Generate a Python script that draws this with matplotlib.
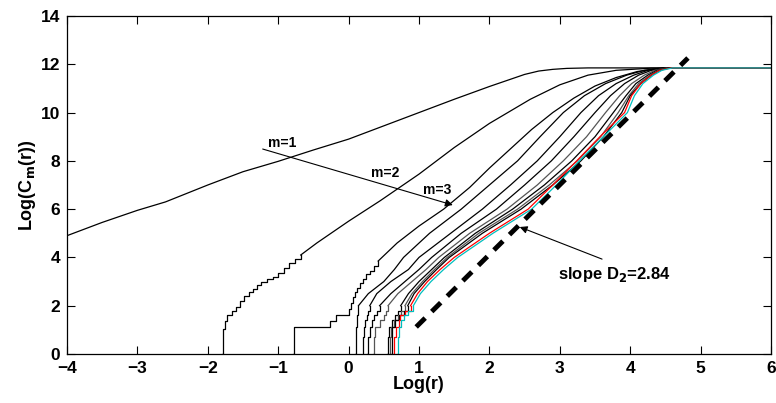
import numpy as np
import matplotlib
matplotlib.use("Agg")
import matplotlib.pyplot as plt

plt.rcParams['font.family'] = ['Liberation Sans', 'DejaVu Sans']
plt.rcParams['font.weight'] = 'bold'
plt.rcParams['axes.labelweight'] = 'bold'
plt.rcParams['mathtext.default'] = 'bf'

PLATEAU = 11.85
X_END = 6.0

# m=1 (smooth over the whole range)
m1_x = [-4, -3.5, -3, -2.6, -2, -1.5, -1, -0.5, 0, 0.5, 1, 1.5, 2, 2.3, 2.5, 2.7, 2.9, 3.1, 3.4, 3.8, 6]
m1_y = [4.9, 5.45, 5.95, 6.3, 7.0, 7.55, 7.98, 8.45, 8.9, 9.45, 10.0, 10.55, 11.08, 11.38, 11.58,
        11.72, 11.79, 11.83, 11.85, 11.85, 11.85]

# m=2 : staircase at the foot, then smooth
m2_stair_x = [-1.8, -1.79, -1.76, -1.72, -1.66, -1.6, -1.54, -1.48, -1.42, -1.36,
              -1.3, -1.24, -1.16, -1.08, -1.0, -0.92, -0.84, -0.76, -0.68]
m2_stair_y = [0.0, 1.05, 1.35, 1.6, 1.8, 1.95, 2.2, 2.4, 2.55, 2.7,
              2.85, 3.0, 3.1, 3.2, 3.35, 3.55, 3.75, 3.95, 4.1]
m2_x = [-0.68, -0.45, -0.2, 0, 0.45, 1.0, 1.5, 2.0, 2.58, 3.0, 3.4, 3.8, 4.3, 6]
m2_y = [4.1, 4.6, 5.1, 5.5, 6.35, 7.45, 8.55, 9.55, 10.55, 11.15, 11.55, 11.75, 11.84, 11.85]

# m=3
m3_stair_x = [-0.79, -0.78, -0.27, -0.18, 0.0, 0.03, 0.06, 0.09, 0.12, 0.16, 0.2, 0.25, 0.3, 0.36, 0.42]
m3_stair_y = [0.0, 1.1, 1.35, 1.6, 1.85, 2.1, 2.35, 2.55, 2.75, 2.95, 3.1, 3.3, 3.45, 3.65, 3.85]
m3_x = [0.42, 0.69, 1.0, 1.35, 1.72, 2.0, 2.3, 2.6, 2.9, 3.2, 3.5, 3.8, 4.1, 4.4, 4.6, 6]
m3_y = [3.85, 4.6, 5.3, 6.0, 6.9, 7.7, 8.5, 9.3, 10.0, 10.6, 11.1, 11.45, 11.7, 11.83, 11.85, 11.85]

# m=4 .. m=12 : x read at common Log(C) levels
y_levels = [0, 0.7, 1.1, 1.4, 1.6, 1.8, 2.0, 2.5, 3.0, 3.5, 4.0, 5.0, 6.0, 7.0,
            8.0, 9.0, 10.0, 10.7, 11.2, 11.55, 11.75, 11.85]
m4_x = [0.09, 0.1, 0.11, 0.12, 0.125, 0.13, 0.14, 0.28, 0.5, 0.65, 0.78, 1.15, 1.6, 2.0,
        2.4, 2.72, 3.05, 3.35, 3.65, 3.95, 4.2, 4.5]
m5_x = [0.2, 0.21, 0.22, 0.24, 0.26, 0.28, 0.3, 0.4, 0.6, 0.85, 1.0, 1.45, 1.9, 2.3,
        2.68, 3.0, 3.3, 3.55, 3.8, 4.05, 4.25, 4.5]
m6_x = [0.26, 0.27, 0.3, 0.33, 0.36, 0.4, 0.44, 0.6, 0.8, 1.0, 1.18, 1.6, 2.1, 2.5,
        2.88, 3.2, 3.5, 3.72, 3.92, 4.12, 4.3, 4.5]
m7_x = [0.35, 0.36, 0.38, 0.45, 0.5, 0.53, 0.56, 0.7, 0.9, 1.1, 1.28, 1.72, 2.25, 2.68,
        3.05, 3.38, 3.65, 3.85, 4.02, 4.2, 4.35, 4.52]
m8_x = [0.55, 0.56, 0.58, 0.62, 0.66, 0.7, 0.74, 0.85, 1.0, 1.18, 1.36, 1.8, 2.33, 2.78,
        3.17, 3.5, 3.76, 3.94, 4.08, 4.25, 4.38, 4.53]
m9_x = [0.58, 0.59, 0.6, 0.64, 0.7, 0.75, 0.8, 0.9, 1.05, 1.22, 1.4, 1.85, 2.4, 2.85,
        3.25, 3.58, 3.83, 3.98, 4.12, 4.28, 4.4, 4.54]
m10_x = [0.6, 0.61, 0.62, 0.66, 0.72, 0.78, 0.84, 0.93, 1.08, 1.25, 1.43, 1.9, 2.45, 2.9,
         3.3, 3.62, 3.88, 4.0, 4.15, 4.3, 4.42, 4.55]
m11_x = [0.63, 0.64, 0.68, 0.71, 0.73, 0.8, 0.88, 0.98, 1.12, 1.3, 1.5, 2.0, 2.55, 2.9,
         3.24, 3.57, 3.92, 4.02, 4.15, 4.3, 4.42, 4.58]
m12_x = [0.69, 0.7, 0.72, 0.75, 0.78, 0.84, 0.92, 1.02, 1.17, 1.35, 1.55, 2.05, 2.6, 2.95,
         3.28, 3.62, 3.96, 4.06, 4.18, 4.33, 4.45, 4.6]

bundle = [(m4_x, 'k'), (m5_x, 'k'), (m6_x, 'k'), (m7_x, '#555555'), (m8_x, 'k'),
          (m9_x, '#555555'), (m10_x, 'k'), (m11_x, 'red'), (m12_x, 'c')]

# fitted slope line
slope_x = [0.96, 4.82]
slope_y = [1.12, 12.26]

fig = plt.figure(figsize=(7.76, 4.03), dpi=100)
ax = fig.add_axes([0.0863, 0.1216, 0.9073, 0.8387])

lw = 0.9
ax.plot(m1_x, m1_y, color='k', lw=lw)
ax.plot(m2_stair_x, m2_stair_y, color='k', lw=lw, drawstyle='steps-post')
ax.plot(m2_x, m2_y, color='k', lw=lw)
ax.plot(m3_stair_x, m3_stair_y, color='k', lw=lw, drawstyle='steps-post')
ax.plot(m3_x, m3_y, color='k', lw=lw)

for xs, col in bundle:
    ax.plot(xs[:7], y_levels[:7], color=col, lw=lw, drawstyle='steps-post')
    ax.plot(xs[6:] + [X_END], y_levels[6:] + [PLATEAU], color=col, lw=lw)

ax.plot(slope_x, slope_y, color='k', lw=3.5, linestyle=(0, (2.6, 1.9)))

arrow = dict(arrowstyle='-|>', color='k', lw=0.8, mutation_scale=11, shrinkA=0, shrinkB=0)
ax.annotate('', xy=(1.48, 6.17), xytext=(-1.22, 8.49), arrowprops=arrow)
ax.annotate('', xy=(2.43, 5.26), xytext=(3.6, 3.93), arrowprops=arrow)

ax.text(-0.95, 8.74, 'm=1', fontsize=10, fontweight='bold', ha='center', va='center')
ax.text(0.52, 7.5, 'm=2', fontsize=10, fontweight='bold', ha='center', va='center')
ax.text(1.26, 6.8, 'm=3', fontsize=10, fontweight='bold', ha='center', va='center')
ax.text(2.97, 3.3, 'slope D$_2$=2.84', fontsize=12, fontweight='bold',
        ha='left', va='center')

ax.set_xlim(-4, 6)
ax.set_ylim(0, 14)
ax.set_xticks(np.arange(-4, 7, 1))
ax.set_yticks(np.arange(0, 15, 2))
ax.tick_params(direction='in', top=True, right=True, length=6, width=0.8, labelsize=12.5, pad=5)
for sp in ax.spines.values():
    sp.set_linewidth(0.9)

ax.set_xlabel('Log(r)', fontsize=13, fontweight='bold', labelpad=0)
ax.set_ylabel('Log(C$_m$(r))', fontsize=13, fontweight='bold', labelpad=2)

fig.savefig('out.png', dpi=100)
